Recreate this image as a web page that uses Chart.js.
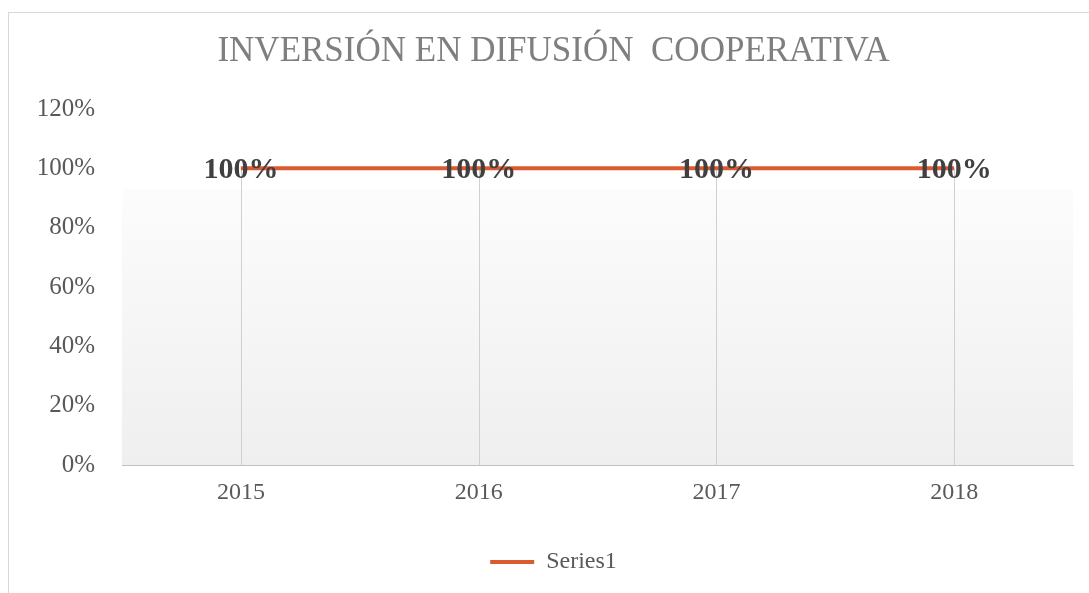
<!DOCTYPE html>
<html lang="es">
<head>
    <meta charset="UTF-8">
    <title>Inversión en difusión cooperativa</title>
    <script src="https://cdn.jsdelivr.net/npm/chart.js"></script>
    <style>
        body {
            margin: 0;
            background-color: #ffffff;
            overflow: hidden;
        }
        .frame {
            position: absolute;
            left: 8px;
            top: 12px;
            right: 0;
            bottom: 0;
            border-left: 1px solid #d9d9d9;
            border-top: 1px solid #d9d9d9;
        }
        #chart {
            position: absolute;
            left: 0;
            top: 0;
        }
    </style>
</head>
<body>
    <div class="frame"></div>
    <canvas id="chart" width="1089" height="593"></canvas>

    <script>
        // chart data
        const years = ['2015', '2016', '2017', '2018'];
        const series1 = [100, 100, 100, 100];
        const yTicks = [0, 20, 40, 60, 80, 100, 120];

        const serif = "'Liberation Serif', 'Times New Roman', serif";

        // plot background: white on top, soft grey gradient lower down
        const plotBackground = {
            id: 'plotBackground',
            beforeDraw(chart) {
                const { ctx, chartArea: a, scales } = chart;
                const start = scales.y.getPixelForValue(93);
                const g = ctx.createLinearGradient(0, start, 0, a.bottom);
                g.addColorStop(0, '#fcfcfc');
                g.addColorStop(1, '#efefef');
                ctx.save();
                ctx.fillStyle = g;
                ctx.fillRect(a.left, start, a.right - a.left, a.bottom - start);
                ctx.restore();
            }
        };

        // drop lines from each point down to the category axis
        const dropLines = {
            id: 'dropLines',
            beforeDatasetsDraw(chart) {
                const { ctx, scales } = chart;
                const base = scales.y.getPixelForValue(0);
                ctx.save();
                ctx.strokeStyle = '#d0d0d0';
                ctx.lineWidth = 1;
                chart.getDatasetMeta(0).data.forEach(p => {
                    const x = Math.round(p.x) + 0.5;
                    ctx.beginPath();
                    ctx.moveTo(x, p.y);
                    ctx.lineTo(x, base);
                    ctx.stroke();
                });
                ctx.restore();
            }
        };

        // "100%" labels sitting on the points
        const pointLabels = {
            id: 'pointLabels',
            afterDatasetsDraw(chart) {
                const { ctx } = chart;
                ctx.save();
                ctx.font = 'bold 30px ' + serif;
                ctx.fillStyle = '#404040';
                ctx.textAlign = 'center';
                ctx.textBaseline = 'middle';
                chart.getDatasetMeta(0).data.forEach((p, i) => {
                    ctx.fillText(series1[i] + '%', p.x, p.y + 2);
                });
                ctx.restore();
            }
        };

        const ctx = document.getElementById('chart').getContext('2d');
        const chart = new Chart(ctx, {
            type: 'line',
            data: {
                labels: years,
                datasets: [{
                    label: 'Series1',
                    data: series1,
                    borderColor: '#dc5a30',
                    backgroundColor: '#dc5a30',
                    borderWidth: 4,
                    pointRadius: 0,
                    pointStyle: 'line',
                    tension: 0
                }]
            },
            options: {
                responsive: false,
                animation: false,
                devicePixelRatio: 1,
                layout: {
                    padding: { left: 34, right: 16, top: 31, bottom: 9 }
                },
                plugins: {
                    title: {
                        display: true,
                        text: 'INVERSIÓN EN DIFUSIÓN  COOPERATIVA',
                        color: '#7f7f7f',
                        font: { family: serif, size: 35, weight: 'normal' },
                        padding: { top: 0, bottom: 36 }
                    },
                    legend: {
                        position: 'bottom',
                        labels: {
                            usePointStyle: true,
                            pointStyleWidth: 44,
                            color: '#595959',
                            font: { family: serif, size: 24 },
                            padding: 10
                        }
                    },
                    tooltip: { enabled: false }
                },
                scales: {
                    x: {
                        offset: true,
                        grid: { display: false, drawTicks: false },
                        border: { display: true, color: '#bfbfbf', width: 1 },
                        ticks: {
                            color: '#595959',
                            font: { family: serif, size: 24 },
                            padding: 13
                        },
                        afterFit(scale) {
                            scale.height += 20;
                        }
                    },
                    y: {
                        min: 0,
                        max: 120,
                        afterBuildTicks(scale) {
                            scale.ticks = yTicks.map(v => ({ value: v }));
                        },
                        afterFit(scale) {
                            scale.width = 88;
                        },
                        grid: { display: false, drawTicks: false },
                        border: { display: false },
                        ticks: {
                            color: '#595959',
                            font: { family: serif, size: 25 },
                            padding: 27,
                            callback: v => v + '%'
                        }
                    }
                }
            },
            plugins: [plotBackground, dropLines, pointLabels]
        });
    </script>
</body>
</html>
